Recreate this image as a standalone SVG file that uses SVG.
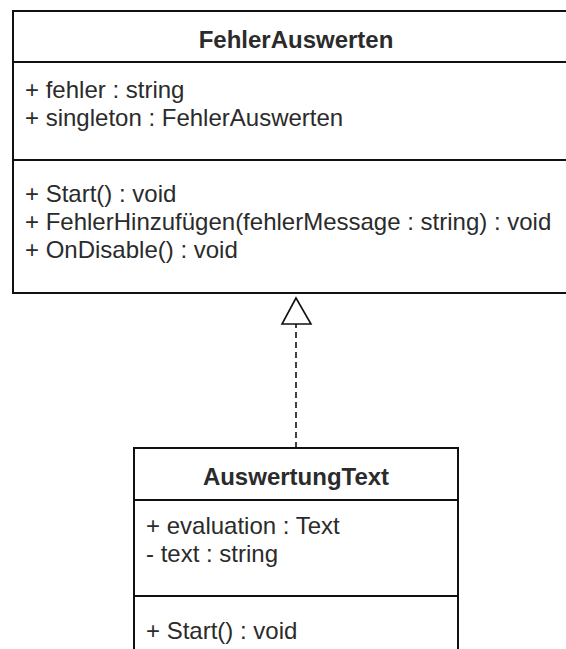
<svg xmlns="http://www.w3.org/2000/svg" width="566" height="649" viewBox="0 0 566 649">
<style>
.box{fill:#fff;stroke:#111;stroke-width:2}
.sep{stroke:#111;stroke-width:2}
.t{font-family:"Liberation Sans",Arial,sans-serif;font-size:24px;fill:#2b2b2b}
.b{font-weight:bold;text-anchor:middle}
.conn{stroke:#111;stroke-width:1.6;fill:none}
</style>
<rect width="566" height="649" fill="#fff"/>
<g id="FehlerAuswerten">
<rect class="box" x="13" y="11" width="580" height="282"/>
<line class="sep" x1="13" y1="62" x2="593" y2="62"/>
<line class="sep" x1="13" y1="160" x2="593" y2="160"/>
<text class="t b" x="296" y="48">FehlerAuswerten</text>
<text class="t" x="25" y="98">+ fehler : string</text>
<text class="t" x="25" y="126">+ singleton : FehlerAuswerten</text>
<text class="t" x="25" y="202">+ Start() : void</text>
<text class="t" x="25" y="230">+ FehlerHinzufügen(fehlerMessage : string) : void</text>
<text class="t" x="25" y="258">+ OnDisable() : void</text>
</g>
<g id="AuswertungText">
<rect class="box" x="134" y="448" width="324" height="260"/>
<line class="sep" x1="134" y1="500" x2="458" y2="500"/>
<line class="sep" x1="134" y1="596" x2="458" y2="596"/>
<text class="t b" x="296" y="485">AuswertungText</text>
<text class="t" x="146" y="534">+ evaluation : Text</text>
<text class="t" x="146" y="562">- text : string</text>
<text class="t" x="146" y="639">+ Start() : void</text>
</g>
<g id="connectors">
<line class="conn" x1="296" y1="448" x2="296" y2="324" stroke-dasharray="6 4"/>
<polygon class="conn" points="296,298 282,324 311,324" fill="#fff"/>
</g>
</svg>
